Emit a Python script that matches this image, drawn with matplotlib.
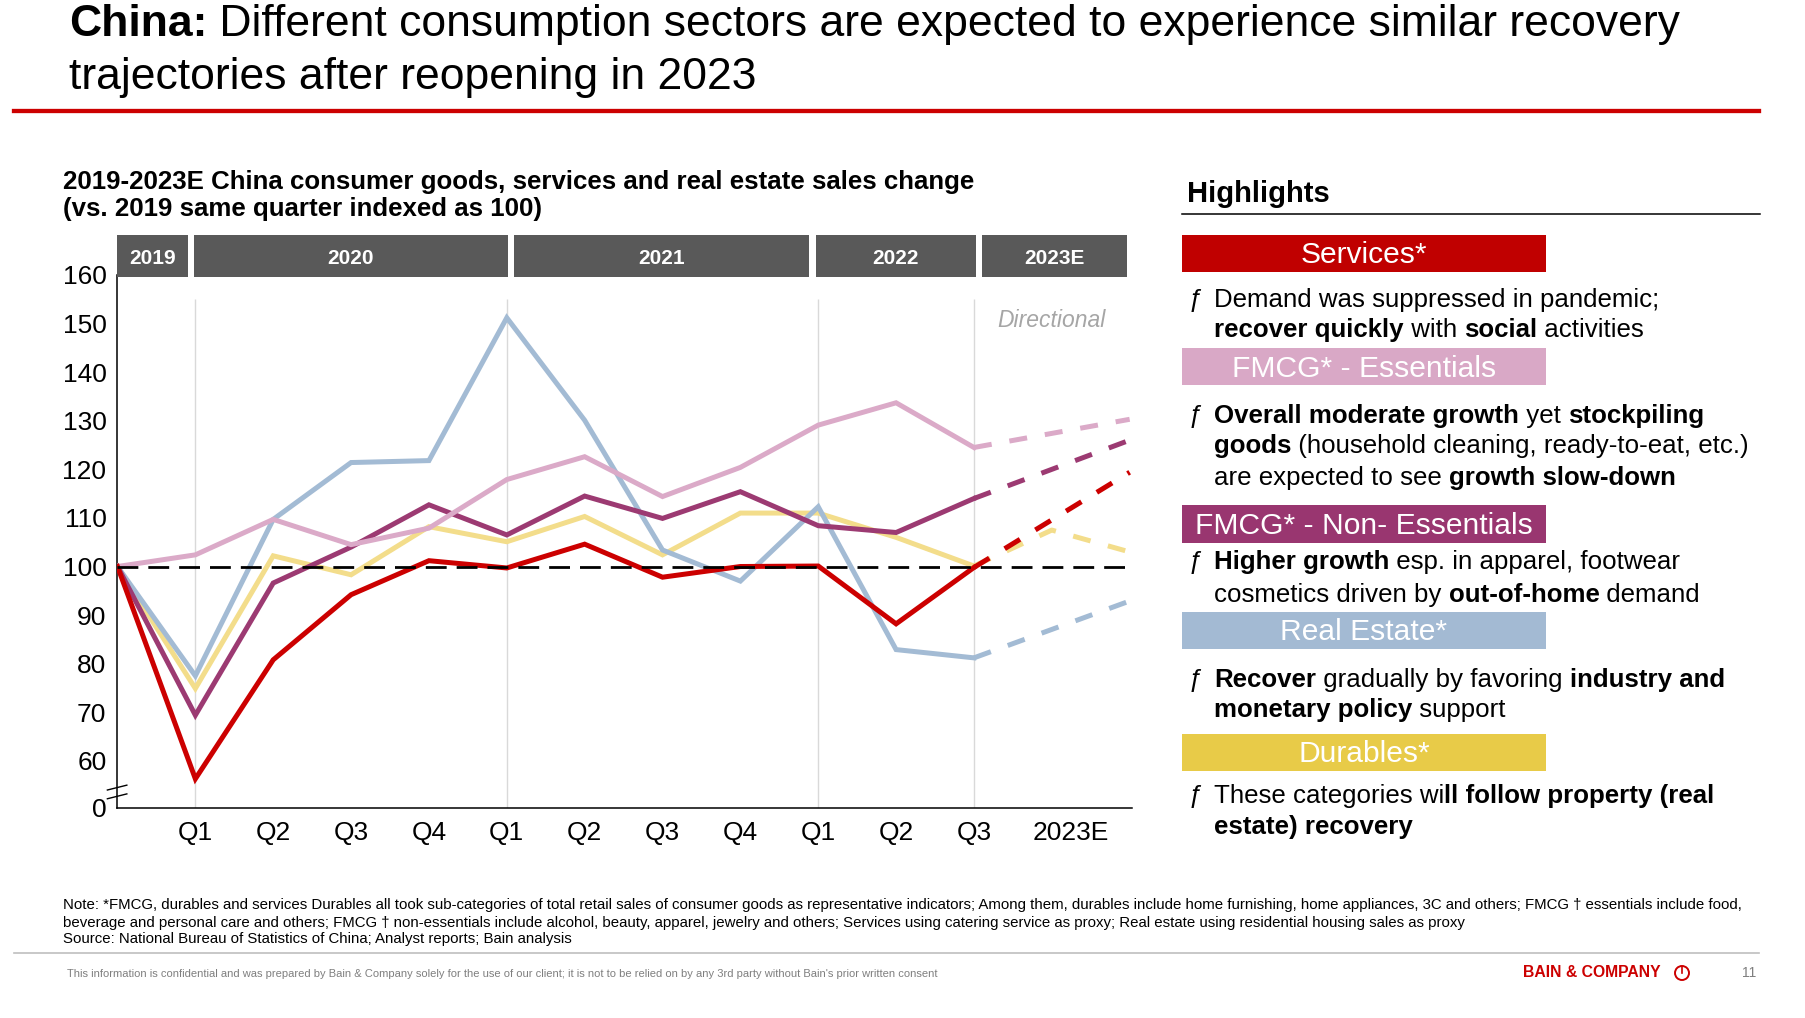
import matplotlib
matplotlib.use('Agg')
import matplotlib.pyplot as plt
from matplotlib.patches import Rectangle, Ellipse
from matplotlib.lines import Line2D
from matplotlib.font_manager import FontProperties
import numpy as np

plt.rcParams['font.family'] = ['Liberation Sans', 'DejaVu Sans']

W, H = 1806, 1018

# ---- data (index vs. 2019 same quarter = 100) ----
x_labels = ['Q1', 'Q2', 'Q3', 'Q4', 'Q1', 'Q2', 'Q3', 'Q4', 'Q1', 'Q2', 'Q3', '2023E']
years = ['2019', '2020', '2021', '2022', '2023E']
y_ticks = [60, 70, 80, 90, 100, 110, 120, 130, 140, 150, 160]

# 2019 base, Q1 2020 ... Q3 2022
services = [100, 56.3, 80.8, 94.2, 101.2, 99.7, 104.6, 97.8, 100.0, 100.1, 88.2, 99.8]
fmcg_ess = [100, 102.4, 109.7, 104.5, 107.9, 117.9, 122.6, 114.4, 120.4, 129.1, 133.7, 124.5]
fmcg_non = [100, 69.4, 96.6, 104.0, 112.7, 106.5, 114.5, 109.9, 115.4, 108.4, 107.0, 114.0]
real_estate = [100, 77.5, 109.7, 121.4, 121.8, 151.2, 130.1, 103.4, 97.0, 112.3, 82.9, 81.2]
durables = [100, 74.9, 102.2, 98.3, 108.2, 105.1, 110.3, 102.4, 111.0, 111.0, 106.0, 100.1]

# 2023E outlook (dashed): mid-2023, end-2023
services_e = [np.nan, 119.4]
fmcg_ess_e = [np.nan, 130.3]
fmcg_non_e = [np.nan, 126.0]
real_estate_e = [np.nan, 92.9]
durables_e = [107.5, 103.0]

series = [
    ('Durables', '#F3DD8B', durables, durables_e),
    ('Real Estate', '#A3BBD4', real_estate, real_estate_e),
    ('FMCG Non-Essentials', '#9C3A72', fmcg_non, fmcg_non_e),
    ('FMCG Essentials', '#DBAAC8', fmcg_ess, fmcg_ess_e),
    ('Services', '#CC0000', services, services_e),
]

highlights = [
    ('Services*', '#C00000',
     [[('Demand was suppressed in pandemic;', False)],
      [('recover quickly', True), (' with ', False), ('social', True), (' activities', False)]]),
    ('FMCG* - Essentials', '#D9A8C6',
     [[('Overall moderate growth', True), (' yet ', False), ('stockpiling', True)],
      [('goods', True), (' (household cleaning, ready-to-eat, etc.)', False)],
      [('are expected to see ', False), ('growth slow-down', True)]]),
    ('FMCG* - Non- Essentials', '#993670',
     [[('Higher growth', True), (' esp. in apparel, footwear', False)],
      [('cosmetics driven by ', False), ('out-of-home', True), (' demand', False)]]),
    ('Real Estate*', '#A3BAD3',
     [[('Recover', True), (' gradually by favoring ', False), ('industry and', True)],
      [('monetary policy', True), (' support', False)]]),
    ('Durables*', '#E8CB48',
     [[('These categories wi', False), ('ll follow property (real', True)],
      [('estate) recovery', True)]]),
]

notes = [
    'Note: *FMCG, durables and services Durables all took sub-categories of total retail sales of consumer goods as representative indicators; Among them, durables include home furnishing, home appliances, 3C and others; FMCG \u2020 essentials include food,',
    'beverage and personal care and others; FMCG \u2020 non-essentials include alcohol, beauty, apparel, jewelry and others; Services using catering service as proxy; Real estate using residential housing sales as proxy',
    'Source: National Bureau of Statistics of China; Analyst reports; Bain analysis',
]
disclaimer = ("This information is confidential and was prepared by Bain & Company solely for the use of our client; "
              "it is not to be relied on by any 3rd party without Bain's prior written consent")

# ---- figure ----
fig = plt.figure(figsize=(W / 100, H / 100), dpi=100)
fig.patch.set_facecolor('white')
renderer = fig.canvas.get_renderer()


def fx(px):
    return px / W


def fy(py):
    return 1 - py / H


def text_width(s, size, bold=False):
    fp = FontProperties(family=['Liberation Sans'], size=size, weight='bold' if bold else 'normal')
    w1, _, _ = renderer.get_text_width_height_descent('|' + s + '|', fp, ismath=False)
    w0, _, _ = renderer.get_text_width_height_descent('||', fp, ismath=False)
    return w1 - w0


def runs_line(x, y, runs, size, color='black'):
    # draw a line of mixed regular / bold pieces
    for s, b in runs:
        fig.text(fx(x), fy(y), s, fontsize=size, fontweight='bold' if b else 'normal',
                 color=color, ha='left', va='baseline')
        x += text_width(s, size, b)


# title
runs_line(69, 36, [('China:', True),
                   (' Different consumption sectors are expected to experience similar recovery', False)], 32)
runs_line(69, 89.5, [('trajectories after reopening in 2023', False)], 32)
fig.add_artist(Line2D([fx(14), fx(1759)], [fy(110.5)] * 2, color='#CC0000', lw=3.1))

# chart subtitle
runs_line(63, 189.3, [('2019-2023E China consumer goods, services and real estate sales change', True)], 18.6)
runs_line(63, 216, [('(vs. 2019 same quarter indexed as 100)', True)], 18.6)

# ---- chart ----
ax = fig.add_axes([fx(117.5), fy(807.5), (1132 - 117.5) / W, (807.5 - 275) / H])
ax.set_xlim(0, 13.03)
ax.set_ylim(50.4, 160)

ax.vlines([1, 5, 9, 11], 50.4, 155, color='#D9D9D9', lw=1, zorder=1)

n = len(services)
for name, color, vals, est in series:
    ax.plot(range(n), vals, color=color, lw=3.6, solid_joinstyle='miter', zorder=3)
    ex = [n - 1] + [n + i for i, v in enumerate(est) if not np.isnan(v)]
    ey = [vals[-1]] + [v for v in est if not np.isnan(v)]
    ax.plot(ex, ey, color=color, lw=3.6, dashes=(3.6, 3.6), zorder=3)

ax.plot([0, 12.94], [100, 100], color='black', lw=2, dashes=(7.5, 3.6), zorder=4)

ax.text(12.0, 149.4, 'Directional', style='italic', color='#A6A6A6', fontsize=16.5,
        ha='center', va='baseline')

# year header bars
year_edges = [(0.0, 0.9), (0.98, 5.01), (5.09, 8.88), (8.97, 11.02), (11.1, 12.97)]
for (x0, x1), yr in zip(year_edges, years):
    ax.add_patch(Rectangle((x0, 159.5), x1 - x0, 8.7, facecolor='#595959', edgecolor='none',
                           clip_on=False, zorder=5))
    ax.text((x0 + x1) / 2, 162.3, yr, color='white', fontweight='bold', fontsize=15,
            ha='center', va='baseline', clip_on=False, zorder=6)

# axis break marks
for yb in (52.2, 54.0):
    ax.plot([-0.13, 0.12], [yb, yb + 1.0], color='black', lw=1, clip_on=False, zorder=6)

ax.set_yticks([50.4] + y_ticks)
ax.set_yticklabels(['0'] + [str(v) for v in y_ticks])
ax.set_xticks(list(range(1, 12)) + [12.25])
ax.set_xticklabels(x_labels)
ax.tick_params(length=0, labelsize=19, pad=8)
ax.tick_params(axis='x', pad=9.5)
for side in ('top', 'right'):
    ax.spines[side].set_visible(False)
for side in ('left', 'bottom'):
    ax.spines[side].set_linewidth(1.1)
    ax.spines[side].set_color('black')

# ---- highlights panel ----
fig.text(fx(1187), fy(201.7), 'Highlights', fontsize=21, fontweight='bold', va='baseline')
fig.add_artist(Line2D([fx(1182), fx(1760)], [fy(214)] * 2, color='black', lw=1.1))

box_spans = [(235, 271.7), (348.3, 385), (505, 542.7), (612.3, 648.7), (734, 770.7)]
line_baselines = [[306.7, 336.7], [423.3, 453.3, 485], [569.3, 601.7], [686.7, 716.7], [803.3, 834]]
for (label, color, lines), (top, bot), bases in zip(highlights, box_spans, line_baselines):
    fig.add_artist(Rectangle((fx(1182), fy(bot)), (1546 - 1182) / W, (bot - top) / H,
                             transform=fig.transFigure, facecolor=color, edgecolor='none'))
    fig.text(fx(1364), fy(bot - 8.4), label, color='white', fontsize=21.6, ha='center', va='baseline')
    for i, (runs, yb) in enumerate(zip(lines, bases)):
        if i == 0:
            fig.text(fx(1189), fy(yb), '\u0192', fontsize=18.6, va='baseline')
        runs_line(1214, yb, runs, 18.6)

# ---- footer ----
for txt, yb in zip(notes, [909.3, 926.7, 943.5]):
    fig.text(fx(63), fy(yb), txt, fontsize=10.8, va='baseline')
fig.add_artist(Line2D([fx(14), fx(1759)], [fy(952.7)] * 2, color='#BFBFBF', lw=1.2))
fig.text(fx(67), fy(976.7), disclaimer, fontsize=8.05, color='#7F7F7F', va='baseline')
fig.text(fx(1523), fy(977), 'BAIN & COMPANY', fontsize=11.3, fontweight='bold', color='#CC0000', va='baseline')
fig.add_artist(Ellipse((fx(1682), fy(973)), 14 / W, 14 / H, transform=fig.transFigure,
                       fill=False, edgecolor='#CC0000', lw=1.4))
fig.add_artist(Line2D([fx(1682), fx(1682)], [fy(973), fy(967)], color='#CC0000', lw=1.2))
fig.text(fx(1742), fy(977), '11', fontsize=10, color='#7F7F7F', va='baseline')

fig.savefig('out.png', dpi=100, facecolor='white')
